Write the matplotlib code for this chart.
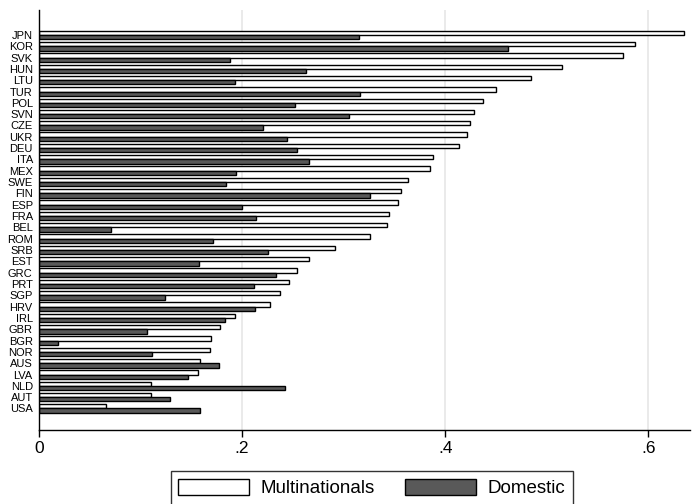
import numpy as np
import matplotlib.pyplot as plt
from matplotlib.patches import Patch

plt.rcParams['font.family'] = ['Liberation Sans', 'DejaVu Sans']

# --- data ---
countries = ['JPN', 'KOR', 'SVK', 'HUN', 'LTU', 'TUR', 'POL', 'SVN', 'CZE', 'UKR',
             'DEU', 'ITA', 'MEX', 'SWE', 'FIN', 'ESP', 'FRA', 'BEL', 'ROM', 'SRB',
             'EST', 'GRC', 'PRT', 'SGP', 'HRV', 'IRL', 'GBR', 'BGR', 'NOR', 'AUS',
             'LVA', 'NLD', 'AUT', 'USA']
multinationals = [0.635, 0.587, 0.575, 0.515, 0.484, 0.450, 0.437, 0.428, 0.424, 0.421,
                  0.414, 0.388, 0.385, 0.363, 0.356, 0.353, 0.345, 0.343, 0.326, 0.291,
                  0.266, 0.254, 0.246, 0.237, 0.227, 0.193, 0.178, 0.169, 0.168, 0.159,
                  0.157, 0.110, 0.110, 0.066]
domestic = [0.315, 0.462, 0.188, 0.263, 0.193, 0.316, 0.252, 0.305, 0.221, 0.244,
            0.254, 0.266, 0.194, 0.184, 0.326, 0.200, 0.214, 0.071, 0.171, 0.225,
            0.158, 0.233, 0.212, 0.124, 0.213, 0.183, 0.106, 0.019, 0.111, 0.177,
            0.147, 0.242, 0.129, 0.159]
xticks = [0, 0.2, 0.4, 0.6]
xticklabels = ['0', '.2', '.4', '.6']

n = len(countries)
y = np.arange(n)
h = 0.38

fig = plt.figure(figsize=(6.95, 5.04), dpi=100)
ax = fig.add_axes([39 / 695, 1 - 430 / 504, 651 / 695, 420 / 504])

ax.barh(y - h / 2, multinationals, height=h, color='white', edgecolor='black', linewidth=1.0)
ax.barh(y + h / 2, domestic, height=h, color='#595959', edgecolor='black', linewidth=1.0)

ax.set_ylim(n - 1 + 1.9, -2.2)
ax.set_xlim(0, 0.641)
ax.set_yticks(y)
ax.set_yticklabels(countries, fontsize=8)
ax.set_xticks(xticks)
ax.set_xticklabels(xticklabels, fontsize=12.5)
ax.tick_params(axis='y', length=0, pad=4.5)
ax.tick_params(axis='x', length=5, width=1, pad=3)

for s in ['top', 'right']:
    ax.spines[s].set_visible(False)
ax.spines['left'].set_linewidth(1.0)
ax.spines['bottom'].set_linewidth(1.0)
ax.xaxis.grid(True, color='#e6e6e6', linewidth=1.2)
ax.set_axisbelow(True)

handles = [Patch(facecolor='white', edgecolor='black', label='Multinationals'),
           Patch(facecolor='#595959', edgecolor='black', label='Domestic')]
fig.legend(handles=handles, ncol=2, loc='upper center', bbox_to_anchor=(371.5 / 695, 1 - 471 / 504),
           fontsize=13.5, frameon=True, fancybox=False, edgecolor='black',
           handlelength=3.8, handleheight=0.95, columnspacing=1.6, borderpad=0.4,
           handletextpad=0.6, borderaxespad=0)

fig.savefig('out.png', dpi=100)
